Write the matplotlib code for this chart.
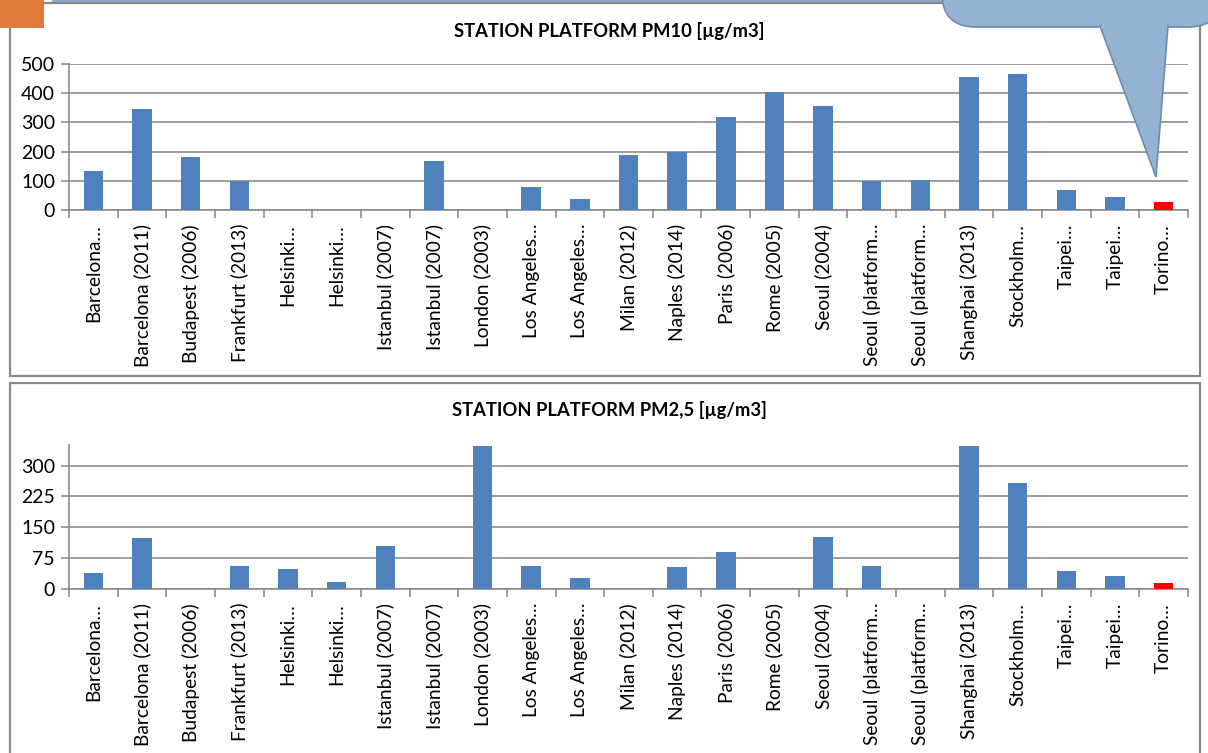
import matplotlib
matplotlib.use("Agg")
import matplotlib.pyplot as plt
from matplotlib.patches import Rectangle, FancyBboxPatch, Polygon
import numpy as np

plt.rcParams['font.family'] = ['Lato', 'DejaVu Sans']

categories = ["Barcelona…", "Barcelona (2011)", "Budapest (2006)", "Frankfurt (2013)",
              "Helsinki…", "Helsinki…", "Istanbul (2007)", "Istanbul (2007)",
              "London (2003)", "Los Angeles…", "Los Angeles…", "Milan (2012)",
              "Naples (2014)", "Paris (2006)", "Rome (2005)", "Seoul (2004)",
              "Seoul (platform…", "Seoul (platform…", "Shanghai (2013)", "Stockholm…",
              "Taipei…", "Taipei…", "Torino…"]

pm10 = [135, 345, 180, 100, 0, 0, 0, 169, 0, 79, 39, 187, 197, 317, 405, 357,
        99, 104, 454, 467, 67, 43, 27]
pm25 = [40, 124, 0, 57, 49, 18, 104, 0, 347, 56, 27, 0, 53, 91, 0, 127,
        57, 0, 347, 257, 43, 32, 15]

pm10_ticks = [0, 100, 200, 300, 400, 500]
pm25_ticks = [0, 75, 150, 225, 300]

title10 = "STATION PLATFORM PM10 [µg/m3]"
title25 = "STATION PLATFORM PM2,5 [µg/m3]"

W, H = 1208, 753
fig = plt.figure(figsize=(W / 100, H / 100), dpi=100)

def fx(px):
    return px / W

def fy(py):
    return 1 - py / H

BLUE = "#4f81bd"
RED = "#ff0000"
GRID = "#8c8c8c"

# decorations: orange square, top blue line, panel frames
fig.patches.append(Rectangle((fx(0), fy(28)), fx(44), 28 / H, transform=fig.transFigure,
                             facecolor="#e07b39", edgecolor="none", zorder=20))
fig.patches.append(Rectangle((fx(52), fy(3)), fx(W - 52), 3 / H, transform=fig.transFigure,
                             facecolor="#8eaacb", edgecolor="none", zorder=0))
for (y0, y1) in [(3, 376), (383, 760)]:
    fig.patches.append(Rectangle((fx(10), fy(y1)), fx(1190), (y1 - y0) / H,
                                 transform=fig.transFigure, facecolor="white",
                                 edgecolor="#8a8a8a", linewidth=1.6, zorder=1))

def draw(ax, values, ticks, ymax, title, title_y):
    x = np.arange(len(categories))
    colors = [BLUE] * (len(categories) - 1) + [RED]
    ax.bar(x, values, width=0.4, color=colors, zorder=3)
    ax.set_xlim(-0.5, len(categories) - 0.5)
    ax.set_ylim(0, ymax)
    ax.set_yticks(ticks)
    ax.set_yticklabels([str(t) for t in ticks], fontsize=14)
    ax.set_xticks(x)
    ax.set_xticklabels(categories, rotation=90, fontsize=13.8, va="top")
    ax.set_xticks(np.arange(len(categories) + 1) - 0.5, minor=True)
    ax.tick_params(axis="x", which="major", length=0, pad=10)
    ax.tick_params(axis="x", which="minor", length=6, color=GRID, width=1.2, direction="out")
    ax.tick_params(axis="y", length=6, color=GRID, width=1.2, pad=4)
    ax.yaxis.grid(True, color=GRID, linewidth=1.2, zorder=0)
    ax.set_axisbelow(True)
    for s in ["top", "right"]:
        ax.spines[s].set_visible(False)
    for s in ["left", "bottom"]:
        ax.spines[s].set_color(GRID)
        ax.spines[s].set_linewidth(1.2)
    ax.patch.set_alpha(0)
    fig.text(fx(609), fy(title_y), title, ha="center", va="center",
             fontsize=13.2, fontweight="bold", zorder=5)

ax1 = fig.add_axes([fx(69), fy(210), fx(1188 - 69), 146 / H], zorder=3)
draw(ax1, pm10, pm10_ticks, 500, title10, 31)

ax2 = fig.add_axes([fx(69), fy(589), fx(1188 - 69), 144 / H], zorder=3)
draw(ax2, pm25, pm25_ticks, 350, title25, 410)

# callout shape at top right
fig.patches.append(FancyBboxPatch((fx(942), fy(27)), fx(280), 60 / H,
                                  boxstyle="round,pad=0,rounding_size=0.028",
                                  transform=fig.transFigure, facecolor="#94b3d2",
                                  edgecolor="#6b8cb0", linewidth=1.2, zorder=10,
                                  mutation_aspect=W / H))
fig.patches.append(Polygon([(fx(1100), fy(26)), (fx(1156), fy(177)), (fx(1168), fy(26))],
                           closed=True, transform=fig.transFigure, facecolor="#94b3d2",
                           edgecolor="#6b8cb0", linewidth=1.2, zorder=11))
fig.patches.append(Rectangle((fx(1101), fy(29)), fx(66), 6 / H, transform=fig.transFigure,
                             facecolor="#94b3d2", edgecolor="none", zorder=12))

fig.savefig("out.png", dpi=100)
